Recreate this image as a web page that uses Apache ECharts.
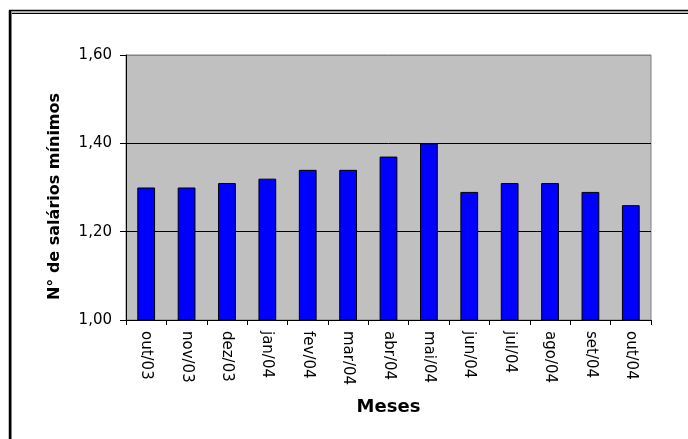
<!DOCTYPE html>
<html>
<head>
<meta charset="utf-8">
<script src="https://cdn.jsdelivr.net/npm/echarts@6/dist/echarts.min.js"></script>
<style>
  html, body { margin: 0; padding: 0; background: #fff; }
  #chart { width: 688px; height: 439px; }
</style>
</head>
<body>
<div id="chart"></div>
<script>
// Monthly values, in number of minimum wages
const months = ['out/03', 'nov/03', 'dez/03', 'jan/04', 'fev/04', 'mar/04', 'abr/04',
                'mai/04', 'jun/04', 'jul/04', 'ago/04', 'set/04', 'out/04'];
const salarios = [1.30, 1.30, 1.31, 1.32, 1.34, 1.34, 1.37, 1.40, 1.29, 1.31, 1.31, 1.29, 1.26];
const yTicks = [1.00, 1.20, 1.40, 1.60];

const chart = echarts.init(document.getElementById('chart'), null, { renderer: 'canvas' });
const font = '"DejaVu Sans", Verdana, sans-serif';

chart.setOption({
  animation: false,
  backgroundColor: '#ffffff',
  textStyle: { fontFamily: font },
  grid: {
    left: 126, top: 55, right: 37, bottom: 119,
    show: true, backgroundColor: '#C0C0C0', borderColor: '#808080', borderWidth: 1
  },
  graphic: [
    // double frame around the chart area
    { type: 'line', shape: { x1: 9, y1: 10.5, x2: 700, y2: 10.5 }, style: { stroke: '#000', lineWidth: 1.5 }, silent: true },
    { type: 'line', shape: { x1: 11, y1: 12, x2: 700, y2: 12 }, style: { stroke: '#808080', lineWidth: 1 }, silent: true },
    { type: 'line', shape: { x1: 11, y1: 13.5, x2: 700, y2: 13.5 }, style: { stroke: '#000', lineWidth: 1 }, silent: true },
    { type: 'line', shape: { x1: 10, y1: 10, x2: 10, y2: 450 }, style: { stroke: '#000', lineWidth: 2.5 }, silent: true },
    { type: 'line', shape: { x1: 11.5, y1: 13, x2: 11.5, y2: 450 }, style: { stroke: '#808080', lineWidth: 1 }, silent: true }
  ],
  xAxis: {
    type: 'category',
    data: months,
    boundaryGap: true,
    name: 'Meses',
    nameLocation: 'middle',
    nameGap: 78,
    nameTextStyle: { fontSize: 18, fontWeight: 'bold', color: '#000', fontFamily: font },
    axisLine: { show: true, lineStyle: { color: '#000', width: 1 } },
    axisTick: { show: true, alignWithLabel: false, length: 5, lineStyle: { color: '#000' } },
    axisLabel: { rotate: -90, margin: 11, fontSize: 15, color: '#000', fontFamily: font, interval: 0 },
    splitLine: { show: false }
  },
  yAxis: {
    type: 'value',
    min: 1.0, max: 1.6, interval: 0.2,
    name: 'N° de salários mínimos',
    nameLocation: 'middle',
    nameRotate: 90,
    nameGap: 63,
    nameTextStyle: { fontSize: 16, fontWeight: 'bold', color: '#000', fontFamily: font, padding: [0, 18, 0, 0] },
    axisLine: { show: true, lineStyle: { color: '#000', width: 1 } },
    axisTick: { show: true, length: 6, lineStyle: { color: '#000' } },
    axisLabel: {
      margin: 14, fontSize: 15, color: '#000', fontFamily: font,
      formatter: v => {
        const t = yTicks.find(x => Math.abs(x - v) < 1e-6);
        return (t !== undefined ? t : v).toFixed(2).replace('.', ',');
      }
    },
    splitLine: { show: true, lineStyle: { color: ['#000', '#000', '#000', '#808080'], width: 1 } }
  },
  series: [{
    type: 'bar',
    data: salarios,
    barWidth: '44%',
    itemStyle: { color: '#0000FF', borderColor: '#000', borderWidth: 1 }
  }]
});
</script>
</body>
</html>
